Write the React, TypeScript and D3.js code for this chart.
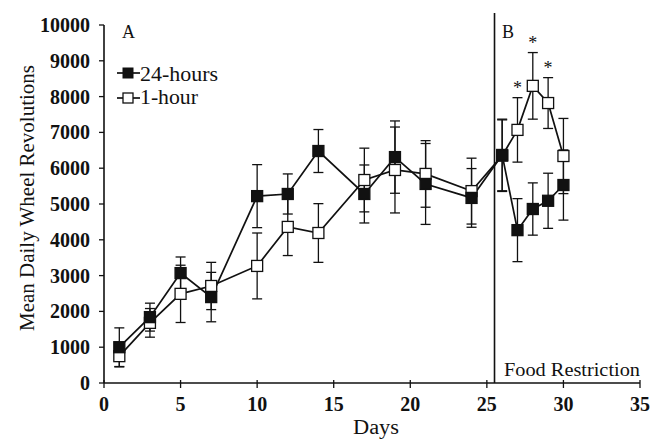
import React from 'react';
import * as d3 from 'd3';

// days of measurement
const days = [1, 3, 5, 7, 10, 12, 14, 17, 19, 21, 24, 26, 27, 28, 29, 30];

// 24-hours group (filled squares)
const hours24 = [1000, 1840, 3070, 2400, 5220, 5280, 6480, 5280, 6310, 5560, 5170, 6370, 4270, 4860, 5090, 5530];
const hours24Se = [540, 390, 450, 690, 880, 560, 600, 810, 1010, 1130, 820, 1000, 880, 730, 770, 980];

// 1-hour group (open squares)
const hour1 = [750, 1680, 2490, 2710, 3270, 4360, 4190, 5670, 5950, 5840, 5360, 6350, 7070, 8300, 7820, 6340];
const hour1Se = [300, 400, 800, 660, 920, 800, 820, 890, 1200, 930, 920, 1000, 900, 930, 710, 1050];

// days with significant difference
const starDays = [27, 28, 29];

const xTicks = [0, 5, 10, 15, 20, 25, 30, 35];
const yTicks = d3.range(0, 10001, 1000);

const W = 663;
const H = 439;
const FONT = '"Liberation Serif", "Times New Roman", serif';
const INK = '#111';

export default function App() {
  const x = d3.scaleLinear().domain([0, 35]).range([104, 640]);
  const y = d3.scaleLinear().domain([0, 10000]).range([383, 25]);

  const line = d3.line<number>()
    .x((d, i) => x(days[i]))
    .y(d => y(d));

  const ms = 11; // marker size
  const cap = 5;

  const errorBars = (vals: number[], se: number[], key: string) =>
    vals.map((v, i) => {
      const cx = x(days[i]);
      const top = y(v + se[i]);
      const bot = y(v - se[i]);
      return (
        <g key={key + i} stroke={INK} strokeWidth={1.3}>
          <line x1={cx} x2={cx} y1={top} y2={bot} />
          <line x1={cx - cap} x2={cx + cap} y1={top} y2={top} />
          <line x1={cx - cap} x2={cx + cap} y1={bot} y2={bot} />
        </g>
      );
    });

  const markers = (vals: number[], fill: string, key: string) =>
    vals.map((v, i) => (
      <rect key={key + i} x={x(days[i]) - ms / 2} y={y(v) - ms / 2} width={ms} height={ms}
        fill={fill} stroke={INK} strokeWidth={1.3} />
    ));

  const starIdx = starDays.map(d => days.indexOf(d));

  return (
    <svg width={W} height={H} style={{ position: 'absolute', left: 0, top: 0, background: '#fff' }}
      fontFamily={FONT}>
      {/* axes */}
      <line x1={x(0)} x2={x(0)} y1={y(10000)} y2={y(0)} stroke={INK} strokeWidth={1.6} />
      <line x1={x(0)} x2={x(35)} y1={y(0)} y2={y(0)} stroke={INK} strokeWidth={1.6} />
      {yTicks.map(t => (
        <g key={'yt' + t}>
          <line x1={x(0) - 5} x2={x(0)} y1={y(t)} y2={y(t)} stroke={INK} strokeWidth={1.3} />
          <text x={x(0) - 14} y={y(t)} dy="0.35em" textAnchor="end" fontSize={20} fontWeight="bold" fill={INK}>{t}</text>
        </g>
      ))}
      {xTicks.map(t => (
        <g key={'xt' + t}>
          <line x1={x(t)} x2={x(t)} y1={y(0) - 3} y2={y(0) + 5} stroke={INK} strokeWidth={1.3} />
          <text x={x(t)} y={y(0) + 28} textAnchor="middle" fontSize={20} fontWeight="bold" fill={INK}>{t}</text>
        </g>
      ))}
      <text x={376} y={434} textAnchor="middle" fontSize={20} fill={INK} textLength={46} lengthAdjust="spacingAndGlyphs">Days</text>
      <text transform={`translate(34,198) rotate(-90)`} textAnchor="middle" fontSize={20} fill={INK}
        textLength={266} lengthAdjust="spacingAndGlyphs">
        Mean Daily Wheel Revolutions
      </text>

      {/* food restriction divider */}
      <line x1={x(25.5)} x2={x(25.5)} y1={13} y2={y(0)} stroke={INK} strokeWidth={1.6} />
      <text x={504} y={376} fontSize={19} fill={INK} textLength={136} lengthAdjust="spacingAndGlyphs">Food Restriction</text>
      <text x={122} y={38} fontSize={18} fill={INK}>A</text>
      <text x={502} y={38} fontSize={18} fill={INK}>B</text>

      {/* series lines */}
      <path d={line(hour1) || ''} fill="none" stroke={INK} strokeWidth={1.7} />
      <path d={line(hours24) || ''} fill="none" stroke={INK} strokeWidth={1.7} />

      {errorBars(hour1, hour1Se, 'e1')}
      {errorBars(hours24, hours24Se, 'e24')}
      {markers(hour1, '#fff', 'm1')}
      {markers(hours24, INK, 'm24')}

      {/* significance stars */}
      {starIdx.map(i => (
        <text key={'s' + i} x={x(days[i])} y={y(hour1[i] + hour1Se[i]) - 4} textAnchor="middle" fontSize={18} fill={INK}>*</text>
      ))}

      {/* legend */}
      <line x1={117} x2={140} y1={73} y2={73} stroke={INK} strokeWidth={1.7} />
      <rect x={128 - 5} y={73 - 5} width={10} height={10} fill={INK} stroke={INK} />
      <text x={140} y={81} fontSize={20} fill={INK} textLength={78} lengthAdjust="spacingAndGlyphs">24-hours</text>
      <line x1={117} x2={140} y1={98} y2={98} stroke={INK} strokeWidth={1.7} />
      <rect x={128 - 5} y={98 - 5} width={10} height={10} fill="#fff" stroke={INK} strokeWidth={1.3} />
      <text x={140} y={104} fontSize={20} fill={INK} textLength={58} lengthAdjust="spacingAndGlyphs">1-hour</text>
    </svg>
  );
}
